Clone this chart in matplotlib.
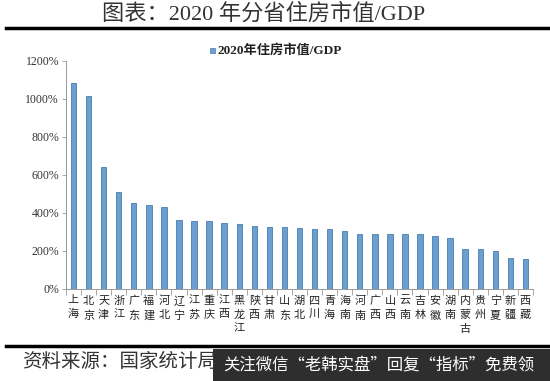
import numpy as np
import matplotlib
matplotlib.use('Agg')
import matplotlib.pyplot as plt
from matplotlib.lines import Line2D
from matplotlib.patches import Rectangle

provinces = ['上海', '北京', '天津', '浙江', '广东', '福建', '河北', '辽宁', '江苏', '重庆',
             '江西', '黑龙江', '陕西', '甘肃', '山东', '湖北', '四川', '青海', '海南', '河南',
             '广西', '山西', '云南', '吉林', '安徽', '湖南', '内蒙古', '贵州', '宁夏', '新疆', '西藏']
ratio = [1083, 1017, 640, 508, 454, 440, 433, 362, 356, 356,
         347, 340, 332, 326, 326, 323, 316, 314, 307, 289,
         289, 288, 288, 288, 279, 267, 211, 209, 198, 163, 156]
yticks = [0, 200, 400, 600, 800, 1000, 1200]
series_name = '2020年住房市值/GDP'

serif = ['Liberation Serif', 'Noto Sans CJK SC']
plt.rcParams['font.family'] = serif

fig = plt.figure(figsize=(5.5, 3.81), dpi=100)
ax = fig.add_axes([0.12, 0.2415, 0.849, 0.5985])

x = np.arange(len(provinces))
ax.bar(x, ratio, width=0.36, color='#6b9fcf', edgecolor='#4a7db0', linewidth=0.6)

ax.set_xlim(-0.5, len(provinces) - 0.5)
ax.set_ylim(0, 1200)
ax.set_yticks(yticks)
ax.set_yticklabels([f'{v}%' for v in yticks], fontsize=8.5, color='#333333')
ax.tick_params(axis='y', length=3, width=0.6, color='#999999', pad=2)

ax.set_xticks(x)
ax.set_xticklabels(['\n'.join(p) for p in provinces], fontsize=8,
                   linespacing=1.5, va='top', color='#222222')
ax.tick_params(axis='x', length=0, pad=5)
ax.set_xticks(np.arange(-0.5, len(provinces)), minor=True)
ax.tick_params(axis='x', which='minor', length=4, width=0.6, color='#999999')

for s in ['top', 'right']:
    ax.spines[s].set_visible(False)
for s in ['left', 'bottom']:
    ax.spines[s].set_color('#999999')
    ax.spines[s].set_linewidth(0.7)

# title and rules
fig.text(0.48, 0.962, '图表：2020 年分省住房市值/GDP', ha='center', va='center',
         fontsize=16, color='#333333')
fig.add_artist(Line2D([0.01, 1.0], [0.926, 0.926], color='black', lw=2.5))
fig.add_artist(Line2D([0.01, 1.0], [0.093, 0.093], color='black', lw=2.5))

# legend
fig.add_artist(Rectangle((0.381, 0.861), 0.009, 0.013, facecolor='#6b9fcf',
                         edgecolor='#4a7db0', lw=0.5))
fig.text(0.396, 0.868, series_name, ha='left', va='center', fontsize=9.5,
         fontweight='bold', color='#222222')

# source footer
fig.text(0.04, 0.05, '资料来源：国家统计局', ha='left', va='center', fontsize=14,
         style='italic', color='#333333')
fig.add_artist(Rectangle((0.387, 0.0), 0.613, 0.085, facecolor='#2e2e2e',
                         edgecolor='none'))
fig.text(0.405, 0.042, '关注微信“老韩实盘”回复“指标”免费领', ha='left', va='center',
         fontsize=11.8, color='white', family=['Noto Sans CJK SC'])

fig.savefig('out.png', dpi=100)
